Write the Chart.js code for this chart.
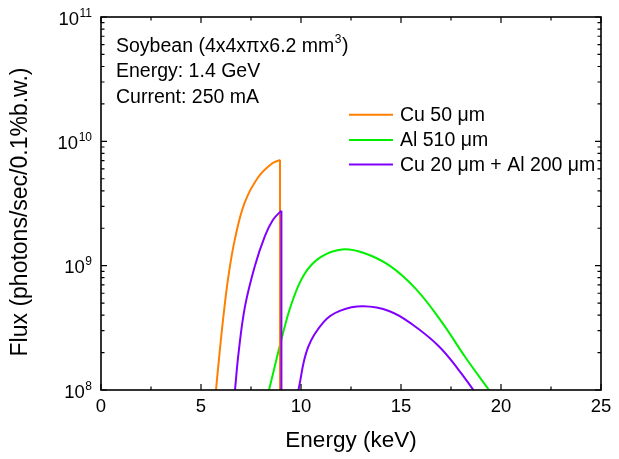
<!DOCTYPE html>
<html>
<head>
<meta charset="utf-8">
<script src="https://cdn.jsdelivr.net/npm/chart.js@4/dist/chart.umd.min.js"></script>
<style>
  body { margin: 0; background: #fff; }
  canvas { display: block; }
</style>
</head>
<body>
<canvas id="myChart" width="619" height="459"></canvas>
<script>
// values (energy in keV, flux in photons/sec/0.1%b.w.)
const cuEnergy = [5.75, 5.88, 6.12, 6.37, 6.7, 7.18, 7.84, 8.5, 8.95];
const cuFlux = [1e8, 1.66e8, 3.9e8, 8.2e8, 1.65e9, 3.2e9, 5.1e9, 6.55e9, 7.1e9];
// the K-edge drop of the Cu filter
const cuEdgeEnergy = [8.95, 8.95];
const cuEdgeFlux = [7.1e9, 1e8];

const alEnergy = [8.4, 8.69, 9.02, 9.51, 10.16, 10.98, 12.05, 13.11, 14.43, 15.74, 17.05, 18.2, 19.4];
const alFlux = [1e8, 1.55e8, 2.55e8, 4.85e8, 8.5e8, 1.17e9, 1.35e9, 1.27e9, 1.0e9, 6.5e8, 3.5e8, 1.85e8, 1e8];

// null splits the two humps of the Cu + Al curve
const mixEnergy = [6.7, 6.88, 7.2, 7.69, 8.19, 8.6, 9.02, 9.4, 9.87, 10.35, 11.15, 11.97, 13.11, 14.43, 15.57, 16.89, 17.87, 18.62];
const mixFlux = [1e8, 2.0e8, 4.7e8, 9.9e8, 1.72e9, 2.34e9, 2.77e9, null, 1e8, 2.2e8, 3.55e8, 4.35e8, 4.71e8, 4.3e8, 3.36e8, 2.25e8, 1.46e8, 1e8];
const mixEdgeEnergy = [9.02, 9.02];
const mixEdgeFlux = [2.77e9, 1e8];

const seriesNames = ["Cu 50 \u03bcm", "Al 510 \u03bcm", "Cu 20 \u03bcm + Al 200 \u03bcm"];
const seriesColors = ["#ff8000", "#00f000", "#8000ff"];

const xMinorTicks = [2.5, 7.5, 12.5, 17.5, 22.5];
const yDecades = [1e8, 1e9, 1e10, 1e11];
const yMinorSteps = [2, 3, 4, 5, 6, 7, 8, 9];

const notes = ["Soybean (4x4x\u03c0x6.2 mm", "Energy: 1.4 GeV", "Current: 250 mA"];

const FONT = "'Liberation Sans', Arial, sans-serif";

function toPoints(xs, ys) {
    return xs.map((v, i) => ({ x: v, y: ys[i] }));
}

function line(xs, ys, colorIndex, tension) {
    return {
        data: toPoints(xs, ys),
        borderColor: seriesColors[colorIndex],
        backgroundColor: seriesColors[colorIndex],
        borderWidth: 2,
        pointRadius: 0,
        fill: false,
        spanGaps: false,
        tension: tension,
    };
}

const frame = {
    id: "frame",
    afterDatasetsDraw(chart) {
        const { ctx, chartArea: a, scales: { x, y } } = chart;
        ctx.save();
        ctx.strokeStyle = "#000";
        ctx.fillStyle = "#000";

        // box round the plot
        ctx.lineWidth = 1.6;
        ctx.strokeRect(a.left, a.top, a.right - a.left, a.bottom - a.top);

        // inward tick marks on all four sides
        ctx.lineWidth = 1.2;
        ctx.beginPath();
        x.ticks.forEach((t) => {
            const px = x.getPixelForValue(t.value);
            ctx.moveTo(px, a.bottom); ctx.lineTo(px, a.bottom - 6);
            ctx.moveTo(px, a.top); ctx.lineTo(px, a.top + 6);
        });
        xMinorTicks.forEach((v) => {
            const px = x.getPixelForValue(v);
            ctx.moveTo(px, a.bottom); ctx.lineTo(px, a.bottom - 3.5);
            ctx.moveTo(px, a.top); ctx.lineTo(px, a.top + 3.5);
        });
        yDecades.forEach((d, i) => {
            const py = y.getPixelForValue(d);
            ctx.moveTo(a.left, py); ctx.lineTo(a.left + 6, py);
            ctx.moveTo(a.right, py); ctx.lineTo(a.right - 6, py);
            if (i === yDecades.length - 1) return;
            yMinorSteps.forEach((m) => {
                const pm = y.getPixelForValue(d * m);
                ctx.moveTo(a.left, pm); ctx.lineTo(a.left + 3.5, pm);
                ctx.moveTo(a.right, pm); ctx.lineTo(a.right - 3.5, pm);
            });
        });
        ctx.stroke();

        // y tick labels 10^n
        yDecades.forEach((d) => {
            const py = y.getPixelForValue(d);
            const exp = String(Math.round(Math.log10(d)));
            ctx.font = "12px " + FONT;
            const ew = ctx.measureText(exp).width;
            ctx.textAlign = "left";
            ctx.textBaseline = "alphabetic";
            ctx.fillText(exp, a.left - 9 - ew, py - 0.5);
            ctx.font = "18.5px " + FONT;
            ctx.textAlign = "right";
            ctx.fillText("10", a.left - 9 - ew - 0.5, py + 7.5);
        });

        // y axis title
        ctx.save();
        ctx.translate(21, 212);
        ctx.rotate(-Math.PI / 2);
        ctx.font = "23px " + FONT;
        ctx.textAlign = "center";
        ctx.textBaseline = "middle";
        ctx.fillText("Flux (photons/sec/0.1%b.w.)", 0, 0);
        ctx.restore();

        // text block at top left
        ctx.textAlign = "left";
        ctx.textBaseline = "alphabetic";
        ctx.font = "19.5px " + FONT;
        notes.forEach((s, i) => {
            ctx.fillText(s, 116, 51.5 + i * 25.8);
        });
        const w = ctx.measureText(notes[0]).width;
        ctx.font = "12px " + FONT;
        ctx.fillText("3", 116 + w + 0.5, 43);
        const w3 = ctx.measureText("3").width;
        ctx.font = "19.5px " + FONT;
        ctx.fillText(")", 116 + w + w3 + 1, 51.5);

        // legend
        const rows = [114.7, 140, 164.5];
        seriesNames.forEach((name, i) => {
            ctx.strokeStyle = seriesColors[i];
            ctx.lineWidth = 2;
            ctx.beginPath();
            ctx.moveTo(349, rows[i]);
            ctx.lineTo(393, rows[i]);
            ctx.stroke();
            ctx.fillStyle = "#000";
            ctx.textBaseline = "middle";
            ctx.font = "19.5px " + FONT;
            ctx.fillText(name, 400, rows[i] + 1);
        });
        ctx.restore();
    }
};

const ctx = document.getElementById("myChart").getContext("2d");
const myChart = new Chart(ctx, {
    type: "line",
    data: {
        // first in the list is drawn on top
        datasets: [
            line(mixEdgeEnergy, mixEdgeFlux, 2, 0),
            line(mixEnergy, mixFlux, 2, 0.4),
            line(cuEdgeEnergy, cuEdgeFlux, 0, 0),
            line(cuEnergy, cuFlux, 0, 0.4),
            line(alEnergy, alFlux, 1, 0.4),
        ],
    },
    options: {
        responsive: false,
        animation: false,
        layout: { padding: { top: 17, right: 18, left: 0, bottom: 0 } },
        plugins: {
            legend: { display: false },
            tooltip: { enabled: false },
        },
        scales: {
            x: {
                type: "linear",
                min: 0,
                max: 25,
                grid: { display: false, drawTicks: false },
                border: { display: false },
                ticks: {
                    stepSize: 5,
                    padding: 6,
                    color: "#000",
                    font: { family: FONT, size: 18.5 },
                    maxRotation: 0,
                },
                title: {
                    display: true,
                    text: "Energy (keV)",
                    color: "#000",
                    font: { family: FONT, size: 22.5 },
                    padding: { top: 0, bottom: 5 },
                },
                afterFit(scale) { scale.height = 69; },
            },
            y: {
                type: "logarithmic",
                min: 1e8,
                max: 1e11,
                grid: { display: false, drawTicks: false },
                border: { display: false },
                ticks: { display: false },
                title: { display: false },
                afterFit(scale) { scale.width = 101; },
            },
        },
    },
    plugins: [frame],
});
</script>
</body>
</html>
